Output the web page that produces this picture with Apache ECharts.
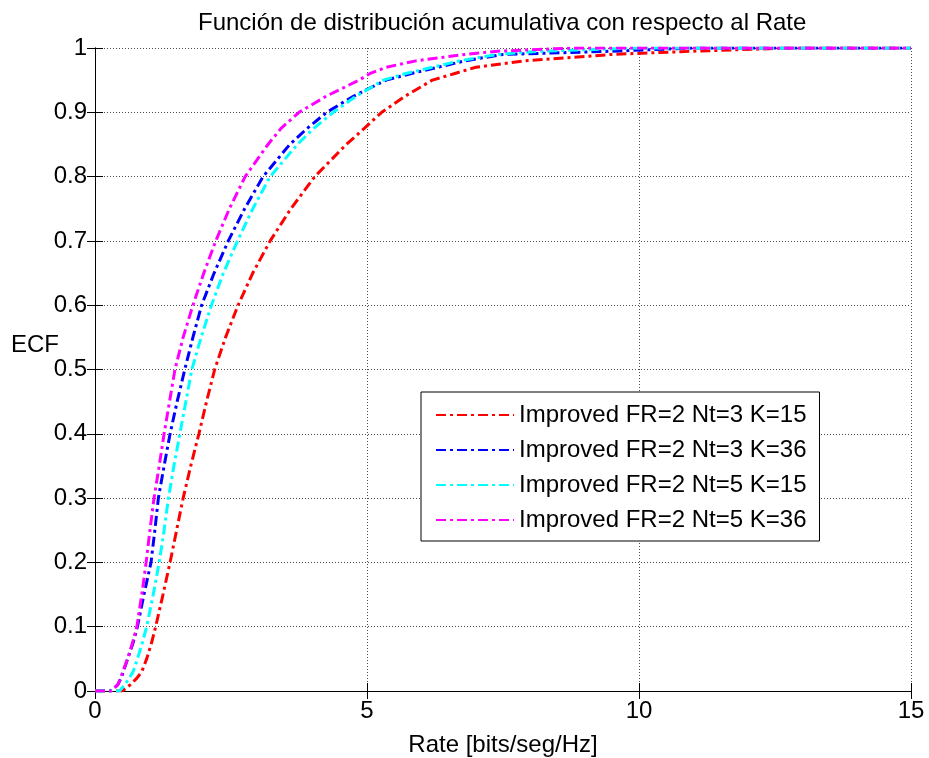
<!DOCTYPE html>
<html>
<head>
<meta charset="utf-8">
<script src="https://cdn.jsdelivr.net/npm/echarts@6/dist/echarts.min.js"></script>
<style>
  html, body { margin: 0; padding: 0; background: #fff; }
  #chart { width: 929px; height: 758px; }
</style>
</head>
<body>
<div id="chart"></div>
<script>
// ECF levels shared by every curve; each series lists the rate (bits/seg/Hz) reached at that level
const ecfLevels = [0, 0.005, 0.01, 0.02, 0.03, 0.05, 0.075, 0.1, 0.15, 0.2, 0.25, 0.3, 0.35, 0.4, 0.45, 0.5,
                   0.55, 0.6, 0.65, 0.7, 0.75, 0.8, 0.85, 0.875, 0.9, 0.925, 0.95, 0.96, 0.97, 0.98, 0.99, 0.995, 1.0];

const rateNt3K15 = [0.50, 0.58, 0.65, 0.77, 0.86, 0.95, 1.04, 1.115, 1.25, 1.38, 1.50, 1.62, 1.76, 1.91, 2.05, 2.20,
                    2.40, 2.63, 2.90, 3.22, 3.60, 4.04, 4.62, 4.95, 5.27, 5.70, 6.20, 6.60, 7.00, 7.90, 9.50, 11.0, 12.8];
const rateNt3K36 = [0.28, 0.36, 0.42, 0.48, 0.52, 0.60, 0.70, 0.78, 0.90, 1.03, 1.10, 1.165, 1.27, 1.38, 1.51, 1.65,
                    1.80, 1.96, 2.19, 2.45, 2.75, 3.09, 3.58, 3.90, 4.26, 4.75, 5.35, 5.80, 6.30, 6.80, 7.50, 9.50, 11.0];
const rateNt5K15 = [0.45, 0.50, 0.55, 0.63, 0.70, 0.78, 0.87, 0.95, 1.07, 1.18, 1.27, 1.35, 1.45, 1.56, 1.67, 1.78,
                    1.95, 2.14, 2.36, 2.62, 2.90, 3.22, 3.72, 4.02, 4.38, 4.80, 5.30, 5.70, 6.20, 6.70, 7.40, 8.20, 10.0];
const rateNt5K36 = [0.30, 0.36, 0.42, 0.47, 0.51, 0.60, 0.69, 0.77, 0.86, 0.94, 1.01, 1.085, 1.18, 1.27, 1.37, 1.47,
                    1.62, 1.80, 2.00, 2.22, 2.47, 2.76, 3.18, 3.42, 3.75, 4.25, 4.85, 5.05, 5.35, 5.90, 6.80, 7.40, 8.80];

const seriesNames = [
  'Improved FR=2 Nt=3 K=15',
  'Improved FR=2 Nt=3 K=36',
  'Improved FR=2 Nt=5 K=15',
  'Improved FR=2 Nt=5 K=36'
];
const seriesColors = ['#ff0000', '#0000ff', '#00ffff', '#ff00ff'];
const seriesRates = [rateNt3K15, rateNt3K36, rateNt5K15, rateNt5K36];

const rateMin = 0, rateMax = 15;

// [rate, ecf] pairs: flat at 0 from the origin, the curve itself, then flat at 1 up to the axis end
function buildCurve(rates) {
  const pts = [[rateMin, 0]];
  rates.forEach((r, i) => pts.push([r, ecfLevels[i]]));
  pts.push([rateMax, 1]);
  return pts;
}

const FONT = 'Liberation Sans, Arial, sans-serif';
const dashDot = [10, 4, 3, 4];
const gridDots = { color: '#000', type: [1, 2], width: 1, opacity: 0.7 };

const chart = echarts.init(document.getElementById('chart'), null, { renderer: 'canvas' });

const option = {
  backgroundColor: '#ffffff',
  animation: false,
  title: {
    text: 'Función de distribución acumulativa con respecto al Rate',
    left: 193,
    top: 6,
    textStyle: { fontFamily: FONT, fontSize: 24, fontWeight: 'normal', color: '#000' }
  },
  legend: {
    orient: 'vertical',
    left: 421,
    top: 392,
    backgroundColor: '#ffffff',
    borderColor: '#000',
    borderWidth: 1,
    borderRadius: 0,
    padding: [11, 13, 9, 14],
    itemWidth: 78,
    itemHeight: 14,
    itemGap: 11,
    itemStyle: { color: 'transparent', borderWidth: 0, opacity: 0 },
    textStyle: { fontFamily: FONT, fontSize: 24, color: '#000' },
    data: seriesNames
  },
  graphic: [
    {
      type: 'text',
      left: 11,
      top: 333,
      style: { text: 'ECF', fontFamily: FONT, fontSize: 24, fill: '#000' }
    }
  ],
  grid: { left: 95, right: 18, top: 48, bottom: 67, containLabel: false, outerBoundsMode: 'none' },
  xAxis: [
    {
      type: 'value',
      min: rateMin, max: rateMax, interval: 5,
      name: 'Rate [bits/seg/Hz]',
      nameLocation: 'middle',
      nameGap: 42,
      nameTextStyle: { fontFamily: FONT, fontSize: 24, color: '#000' },
      axisLine: { show: true, lineStyle: { color: '#000', width: 1 } },
      axisTick: { show: true, inside: true, length: 8, lineStyle: { color: '#000' } },
      axisLabel: { fontFamily: FONT, fontSize: 24, color: '#000', margin: 8 },
      splitLine: { show: true, lineStyle: gridDots }
    },
    {
      type: 'value', position: 'top',
      min: rateMin, max: rateMax, interval: 5,
      axisLine: { show: true, lineStyle: { color: '#000', width: 1 } },
      axisTick: { show: true, inside: true, length: 8, lineStyle: { color: '#000' } },
      axisLabel: { show: false },
      splitLine: { show: false }
    }
  ],
  yAxis: [
    {
      type: 'value',
      min: 0, max: 1, interval: 0.1,
      axisLine: { show: true, lineStyle: { color: '#000', width: 1 } },
      axisTick: { show: true, inside: true, length: 8, lineStyle: { color: '#000' } },
      axisLabel: {
        fontFamily: FONT, fontSize: 24, color: '#000', margin: 8,
        formatter: v => (Math.round(v * 10) / 10).toString()
      },
      splitLine: { show: true, lineStyle: gridDots }
    },
    {
      type: 'value', position: 'right',
      min: 0, max: 1, interval: 0.1,
      axisLine: { show: true, lineStyle: { color: '#000', width: 1 } },
      axisTick: { show: true, inside: true, length: 8, lineStyle: { color: '#000' } },
      axisLabel: { show: false },
      splitLine: { show: false }
    }
  ],
  series: seriesNames.map((name, i) => ({
    name: name,
    type: 'line',
    xAxisIndex: 0,
    yAxisIndex: 0,
    data: buildCurve(seriesRates[i]),
    showSymbol: false,
    symbol: 'none',
    smooth: false,
    color: seriesColors[i],
    lineStyle: { color: seriesColors[i], width: 3, type: dashDot },
    z: 2 + i
  }))
};

chart.setOption(option);
</script>
</body>
</html>
